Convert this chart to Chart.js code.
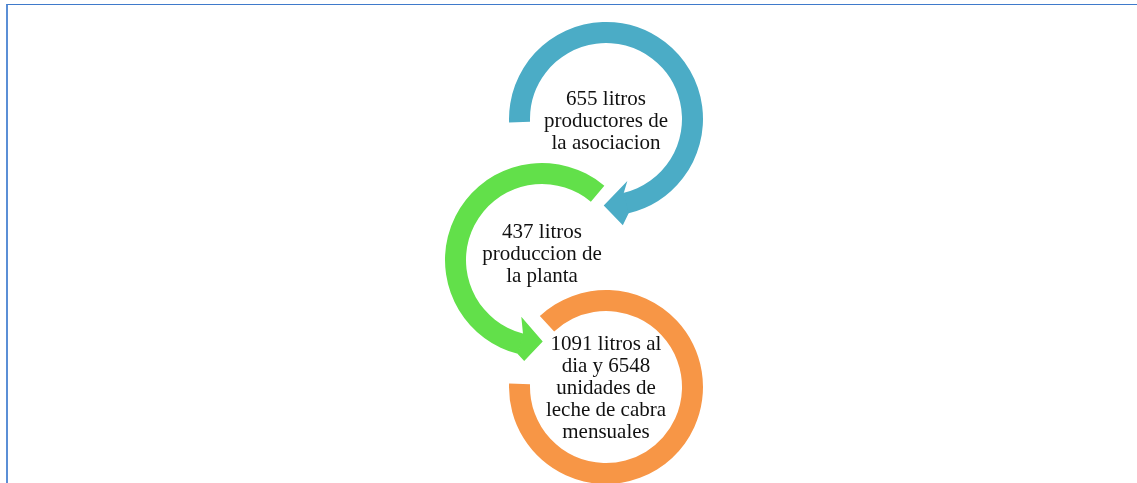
<!DOCTYPE html>
<html>
<head>
<meta charset="utf-8">
<script src="https://cdn.jsdelivr.net/npm/chart.js@4.4.0/dist/chart.umd.min.js"></script>
<style>
	html, body { margin: 0; padding: 0; background: #fff; }
	body { width: 1137px; height: 483px; position: relative; overflow: hidden; }
	#frame { position: absolute; left: 6px; top: 4px; width: 1140px; height: 490px; box-sizing: border-box;
		border-top: 1px solid #3f7acb; border-left: 2px solid #5b8fd6; }
	.ring { position: absolute; width: 240px; height: 240px; }
</style>
</head>
<body>
<div id="frame"></div>
<canvas id="c0" class="ring" width="240" height="240"></canvas>
<canvas id="c1" class="ring" width="240" height="240"></canvas>
<canvas id="c2" class="ring" width="240" height="240"></canvas>
<script>
// Steps of the process (text lines per circle)
var stepLabels = [
	['655 litros', 'productores de', 'la asociacion'],
	['437 litros', 'produccion de', 'la planta'],
	['1091 litros al', 'dia y 6548', 'unidades de', 'leche de cabra', 'mensuales']
];
// Arc of each ring in degrees (0 = top, clockwise), and where the arrow head sits
var arcStart = [268, 194, 317];
var arcSweep = [259, 206, 315];
var arrowEnd = ['end', 'start', null];
var stepColors = ['#4BACC6', '#62E04A', '#F79646'];

// layout only
var ringBoxes = [{ left: 486, top: -1 }, { left: 422, top: 140 }, { left: 486, top: 267 }];
var textShift = [8, 0, 7];
var headShift = [0, -5, 0];

var arrowPlugin = {
	id: 'arrowHead',
	afterDatasetsDraw: function (chart, args, opts) {
		if (!opts.at) { return; }
		var arc = chart.getDatasetMeta(0).data[0];
		var p = arc.getProps(['x', 'y', 'startAngle', 'endAngle', 'innerRadius', 'outerRadius']);
		var mid = (p.innerRadius + p.outerRadius) / 2 + opts.shift;
		var dir = opts.at === 'end' ? 1 : -1;
		var a = opts.at === 'end' ? p.endAngle : p.startAngle;
		var deg = Math.PI / 180;
		function pt(r, ang) { return [p.x + r * Math.cos(ang), p.y + r * Math.sin(ang)]; }

		var pts = [
			pt(p.innerRadius, a - dir * 0.5 * deg),
			pt(mid - 21, a - dir * 6 * deg),
			pt(mid, a + dir * 14.5 * deg),
			pt(mid + 21, a + dir * 4 * deg),
			pt(p.outerRadius, a - dir * 0.5 * deg)
		];
		var ctx = chart.ctx;
		ctx.save();
		ctx.fillStyle = opts.color;
		ctx.beginPath();
		ctx.moveTo(pts[0][0], pts[0][1]);
		for (var i = 1; i < pts.length; i++) {
			ctx.lineTo(pts[i][0], pts[i][1]);
		}
		ctx.closePath();
		ctx.fill();
		ctx.restore();
	}
};

var textPlugin = {
	id: 'centerText',
	afterDraw: function (chart, args, opts) {
		var arc = chart.getDatasetMeta(0).data[0];
		var lines = opts.lines;
		var ctx = chart.ctx;
		ctx.save();
		ctx.font = '21px "Liberation Serif", "Times New Roman", serif';
		ctx.fillStyle = '#111111';
		ctx.textAlign = 'center';
		ctx.textBaseline = 'alphabetic';
		for (var i = 0; i < lines.length; i++) {
			var y = arc.y + (i - (lines.length - 1) / 2) * 22 + opts.shift;
			ctx.fillText(lines[i], arc.x, y);
		}
		ctx.restore();
	}
};

for (var i = 0; i < stepLabels.length; i++) {
	var el = document.getElementById('c' + i);
	el.style.left = ringBoxes[i].left + 'px';
	el.style.top = ringBoxes[i].top + 'px';

	new Chart(el, {
		type: 'doughnut',
		data: {
			labels: ['arco', 'hueco'],
			datasets: [{
				data: [arcSweep[i], 360 - arcSweep[i]],
				backgroundColor: [stepColors[i], 'rgba(0,0,0,0)'],
				borderWidth: 0
			}]
		},
		options: {
			responsive: false,
			animation: false,
			events: [],
			rotation: arcStart[i],
			cutout: 76,
			layout: { padding: 23 },
			plugins: {
				legend: { display: false },
				tooltip: { enabled: false },
				arrowHead: { at: arrowEnd[i], color: stepColors[i], shift: headShift[i] },
				centerText: { lines: stepLabels[i], shift: textShift[i] }
			}
		},
		plugins: [arrowPlugin, textPlugin]
	});
}
</script>
</body>
</html>
